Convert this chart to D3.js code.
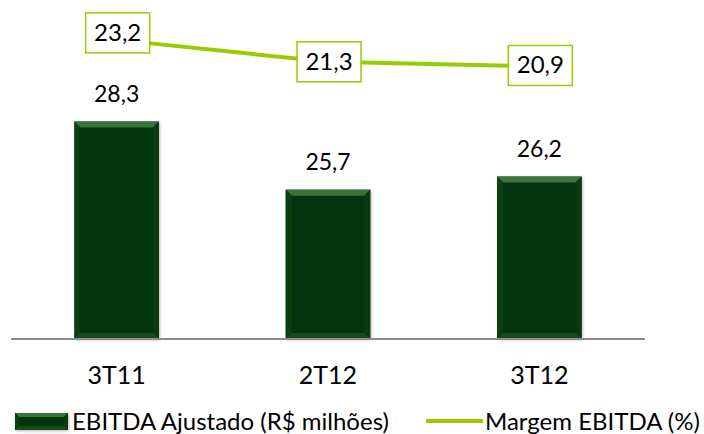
<!DOCTYPE html>
<html>
<head>
<meta charset="utf-8">
<script src="https://cdn.jsdelivr.net/npm/d3@7"></script>
<style>
  body { margin: 0; background: #fff; }
  text { font-family: Lato, "Open Sans", sans-serif; fill: #000; }
</style>
</head>
<body>
<div id="chart"></div>
<script>
//---- data ----//
var quarters = ['3T11', '2T12', '3T12'];
var ebitda = [28.3, 25.7, 26.2];      // R$ milhões
var margem = [23.2, 21.3, 20.9];      // %
var ebitdaLabels = ['28,3', '25,7', '26,2'];
var margemLabels = ['23,2', '21,3', '20,9'];
var legendNames = ['EBITDA Ajustado (R$ milhões)', 'Margem EBITDA (%)'];

//---- size ----//
var width = 704, height = 434;
var baseY = 339;

var svg = d3.select('#chart').append('svg')
  .attr('width', width)
  .attr('height', height);

var defs = svg.append('defs');
var sh = defs.append('filter').attr('id', 'shadow')
  .attr('x', '-10%').attr('y', '-10%').attr('width', '130%').attr('height', '130%');
sh.append('feDropShadow').attr('dx', 1).attr('dy', 1).attr('stdDeviation', 1.5)
  .attr('flood-color', '#000').attr('flood-opacity', 0.3);

//---- scales ----//
var x = d3.scaleBand().domain(quarters).range([11, 645])
  .paddingInner(0.6).paddingOuter(0.3);
var y = d3.scaleLinear().domain([20, 30]).range([baseY, 77]);
var y2 = d3.scaleLinear().domain([18, 26]).range([100, 7.5]);

// bevelled bar drawn as a few polygons
function bevelBar(g, x0, y0, w, h, b) {
  g.append('rect').attr('x', x0).attr('y', y0).attr('width', w).attr('height', h)
    .attr('fill', '#05350a').attr('filter', 'url(#shadow)');
  // top bevel
  g.append('polygon')
    .attr('points', [[x0, y0], [x0 + w, y0], [x0 + w - b, y0 + b], [x0 + b, y0 + b]].join(' '))
    .attr('fill', '#3a743a');
  // left bevel
  g.append('polygon')
    .attr('points', [[x0, y0], [x0 + b, y0 + b], [x0 + b, y0 + h - b], [x0, y0 + h]].join(' '))
    .attr('fill', '#0c3f10');
  // right bevel
  g.append('polygon')
    .attr('points', [[x0 + w, y0], [x0 + w - b, y0 + b], [x0 + w - b, y0 + h - b], [x0 + w, y0 + h]].join(' '))
    .attr('fill', '#0a3a0d');
  // bottom bevel
  g.append('polygon')
    .attr('points', [[x0, y0 + h], [x0 + b, y0 + h - b], [x0 + w - b, y0 + h - b], [x0 + w, y0 + h]].join(' '))
    .attr('fill', '#1a4a1c');
}

//---- bars ----//
var bars = svg.append('g');
quarters.forEach(function(q, i) {
  var g = bars.append('g');
  bevelBar(g, x(q), y(ebitda[i]), x.bandwidth(), baseY - y(ebitda[i]), 6);
});

//---- axis line ----//
svg.append('line')
  .attr('x1', 11).attr('x2', 645).attr('y1', baseY).attr('y2', baseY)
  .attr('stroke', '#8c8c8c').attr('stroke-width', 2);

//---- bar value labels ----//
svg.selectAll('.barLabel').data(ebitda).enter().append('text')
  .attr('class', 'barLabel')
  .attr('x', function(d, i) { return x(quarters[i]) + x.bandwidth() / 2; })
  .attr('y', function(d) { return y(d) - 20; })
  .attr('text-anchor', 'middle')
  .style('font-size', '23px')
  .text(function(d, i) { return ebitdaLabels[i]; });

//---- category labels ----//
svg.selectAll('.cat').data(quarters).enter().append('text')
  .attr('class', 'cat')
  .attr('x', function(d) { return x(d) + x.bandwidth() / 2; })
  .attr('y', 384)
  .attr('text-anchor', 'middle')
  .style('font-size', '25px')
  .text(function(d) { return d; });

//---- margin line ----//
var line = d3.line()
  .x(function(d, i) { return x(quarters[i]) + x.bandwidth() / 2; })
  .y(function(d) { return y2(d); });

svg.append('path').datum(margem)
  .attr('d', line)
  .attr('fill', 'none')
  .attr('stroke', '#99cc00')
  .attr('stroke-width', 4);

// label boxes (first one nudged up like in the source)
var boxShift = [-7, 0, -1];
var boxW = 64, boxH = 40;
var lbl = svg.selectAll('.mLabel').data(margem).enter().append('g')
  .attr('class', 'mLabel')
  .attr('transform', function(d, i) {
    var cx = x(quarters[i]) + x.bandwidth() / 2;
    return 'translate(' + cx + ',' + (y2(d) + boxShift[i]) + ')';
  });
lbl.append('rect')
  .attr('x', -boxW / 2 + 1).attr('y', -boxH / 2)
  .attr('width', boxW).attr('height', boxH)
  .attr('fill', '#fff').attr('stroke', '#99cc00').attr('stroke-width', 1.5);
lbl.append('text')
  .attr('x', 1).attr('y', 8)
  .attr('text-anchor', 'middle')
  .style('font-size', '24px')
  .text(function(d, i) { return margemLabels[i]; });

//---- legend ----//
var leg = svg.append('g');
var lg = leg.append('g');
bevelBar(lg, 15, 413, 53, 17, 4);
leg.append('text').attr('x', 72).attr('y', 430)
  .style('font-size', '24px').text(legendNames[0]);
leg.append('line').attr('x1', 426).attr('x2', 483).attr('y1', 421).attr('y2', 421)
  .attr('stroke', '#99cc00').attr('stroke-width', 4);
leg.append('text').attr('x', 485).attr('y', 430)
  .style('font-size', '24px').text(legendNames[1]);
</script>
</body>
</html>
